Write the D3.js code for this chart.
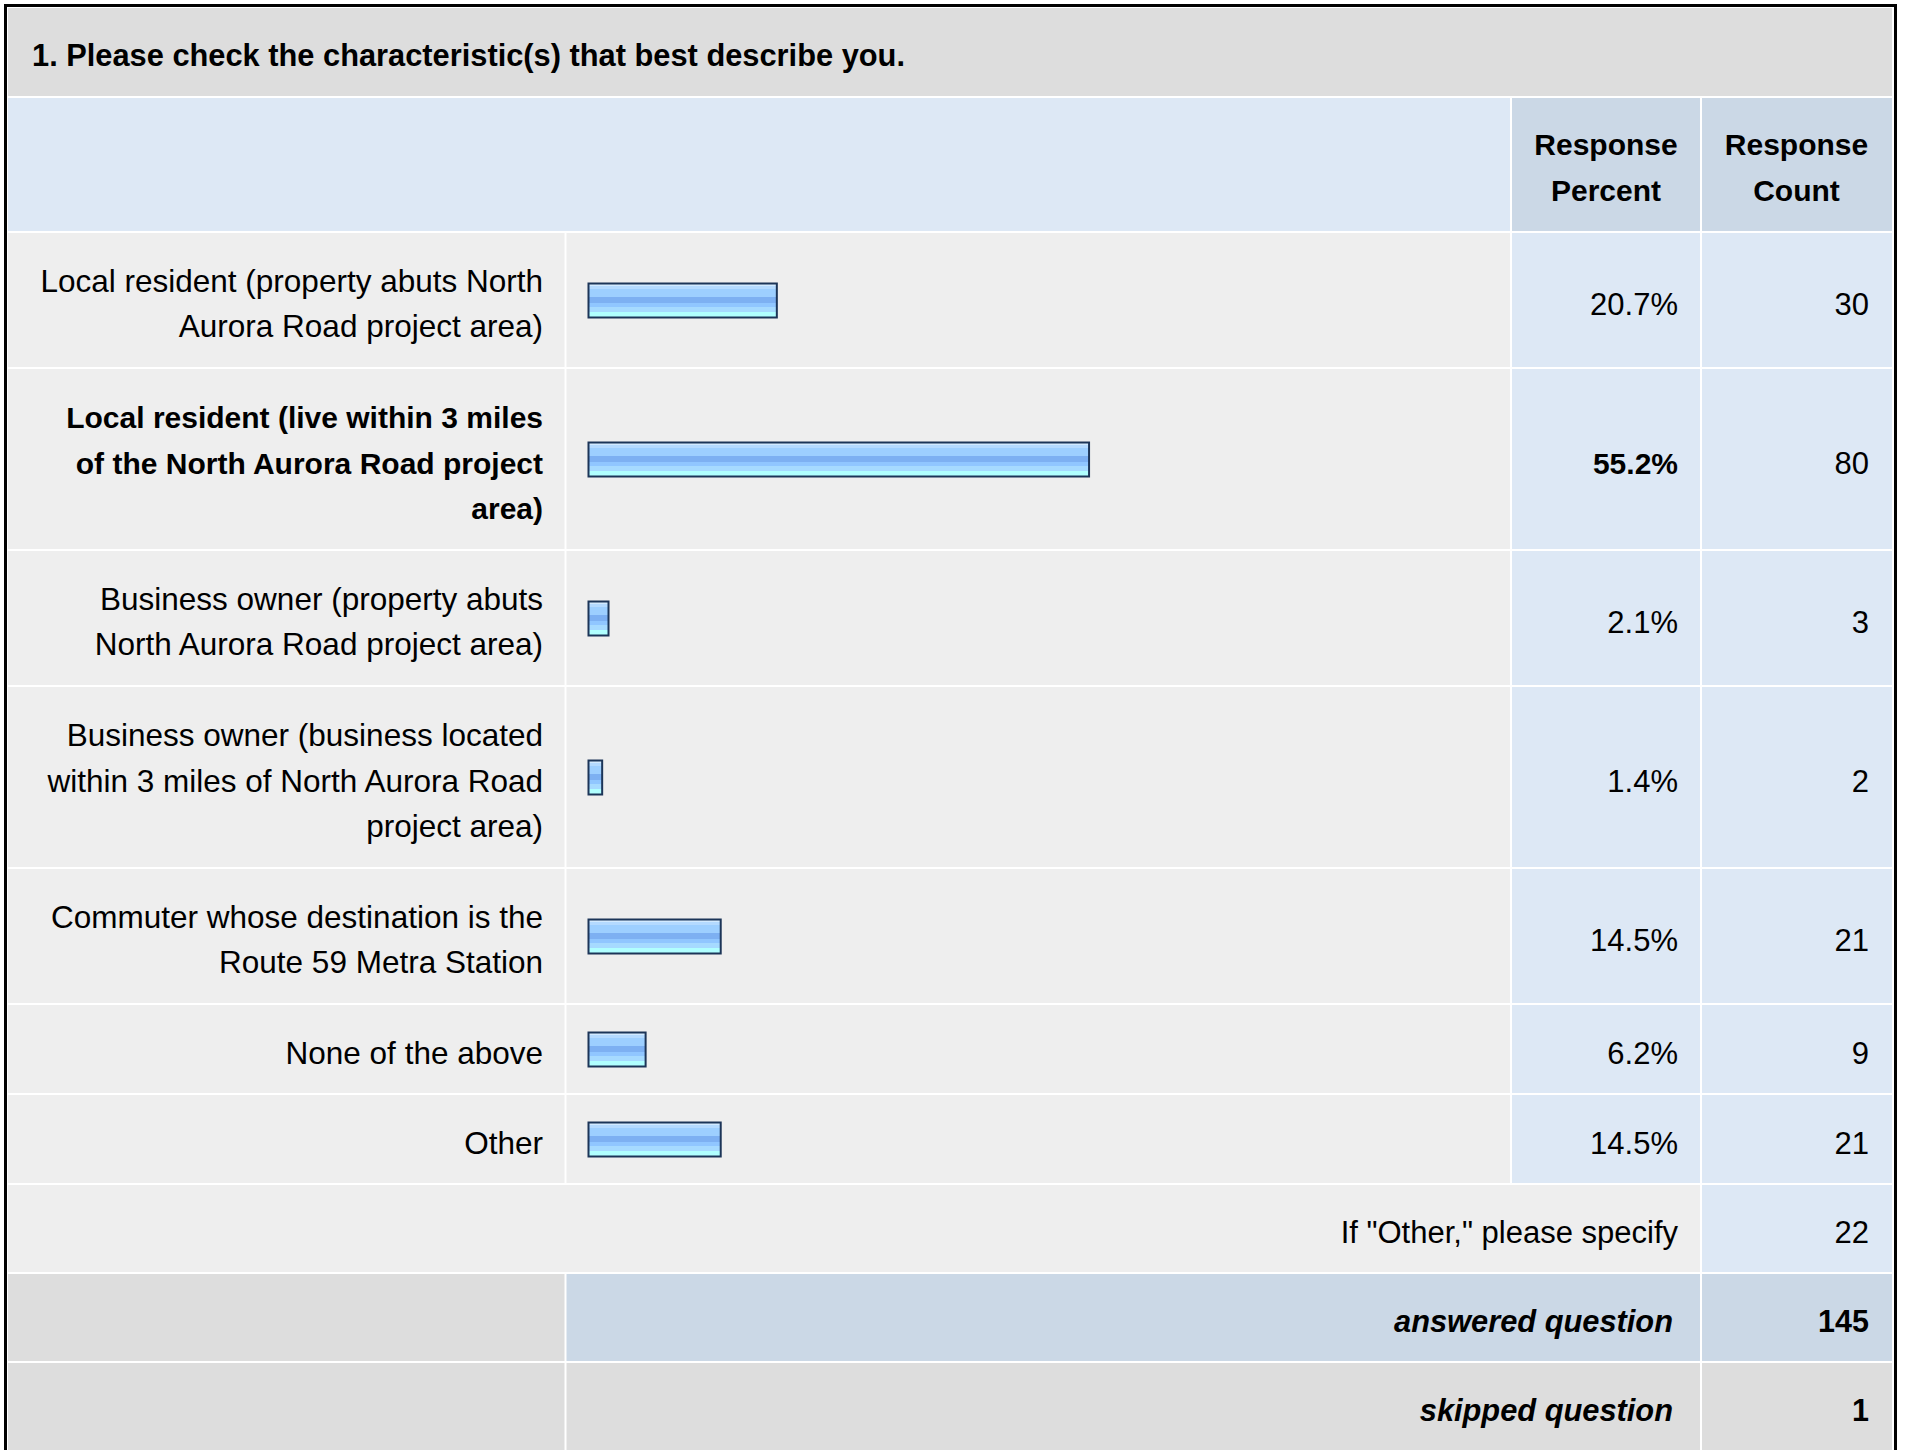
<!DOCTYPE html>
<html>
<head>
<meta charset="utf-8">
<script src="https://cdn.jsdelivr.net/npm/d3@7"></script>
<style>
  html, body { margin: 0; padding: 0; background: #ffffff; }
  svg { display: block; }
  text { font-family: "Liberation Sans", Arial, Helvetica, sans-serif; fill: #000; }
</style>
</head>
<body>
<script>
// ---------- data ----------
const titleText = "1. Please check the characteristic(s) that best describe you.";
const headerPercent = ["Response", "Percent"];
const headerCount = ["Response", "Count"];
const categories = [
  ["Local resident (property abuts North", "Aurora Road project area)"],
  ["Local resident (live within 3 miles", "of the North Aurora Road project", "area)"],
  ["Business owner (property abuts", "North Aurora Road project area)"],
  ["Business owner (business located", "within 3 miles of North Aurora Road", "project area)"],
  ["Commuter whose destination is the", "Route 59 Metra Station"],
  ["None of the above"],
  ["Other"]
];
const percents = [20.7, 55.2, 2.1, 1.4, 14.5, 6.2, 14.5];
const counts = [30, 80, 3, 2, 21, 9, 21];
const otherLabel = 'If "Other," please specify';
const otherCount = 22;
const summaryLabels = ["answered question", "skipped question"];
const summaryCounts = [145, 1];

// ---------- layout ----------
const W = 1907, H = 1450;
const colL = 8, colLabelEnd = 565.5, colBarEnd = 1511, colPctEnd = 1701, colR = 1892;
const lineH = 45.5, baseOff = 14.5;
const cLight = "#eeeeee", cGray = "#dddddd", cBlue = "#dde8f5", cBlueDark = "#cbd8e6";

const svg = d3.select("body").append("svg").attr("width", W).attr("height", H);

const defs = svg.append("defs");
const grad = defs.append("linearGradient").attr("id", "barGrad")
  .attr("x1", 0).attr("y1", 0).attr("x2", 0).attr("y2", 1);
[[0, "#d2eaff"], [0.07, "#d2eaff"], [0.07, "#b4daff"], [0.17, "#b4daff"], [0.17, "#9dcfff"],
 [0.40, "#9dcfff"], [0.40, "#7db0f2"], [0.56, "#7db0f2"], [0.56, "#90c6ff"], [0.69, "#90c6ff"],
 [0.69, "#a6daff"], [0.83, "#a6daff"], [0.83, "#b0ffff"], [1, "#b0ffff"]]
  .forEach(([o, c]) => grad.append("stop").attr("offset", o).attr("stop-color", c));

// outer frame
svg.append("rect").attr("x", 5.5).attr("y", 5.5).attr("width", 1890).attr("height", H + 20)
  .attr("fill", "#fff").attr("stroke", "#000").attr("stroke-width", 3);

function cell(x0, x1, y0, y1, fill) {
  svg.append("rect").attr("x", x0 + 1).attr("y", y0 + 1)
    .attr("width", Math.max(0, x1 - x0 - 2)).attr("height", Math.max(0, y1 - y0 - 2))
    .attr("fill", fill);
}
function lines(arr, x, center, anchor, weight, style, size) {
  const n = arr.length;
  const t = svg.append("text").attr("text-anchor", anchor)
    .style("font-size", size + "px").style("font-weight", weight).style("font-style", style);
  arr.forEach((s, i) => {
    t.append("tspan").attr("x", x)
      .attr("y", center + baseOff + (i - (n - 1) / 2) * lineH).text(s);
  });
}

// title band
const titleBot = 97;
svg.append("rect").attr("x", colL).attr("y", 8).attr("width", colR - colL).attr("height", titleBot - 1 - 8).attr("fill", cGray);
svg.append("text").attr("x", 32).attr("y", (8 + 96) / 2 + baseOff - 1)
  .style("font-size", "30.8px").style("font-weight", "bold").text(titleText);

// header band
const headTop = 97, headBot = 232;
cell(colL - 1, colBarEnd, headTop, headBot, cBlue);
cell(colBarEnd, colPctEnd, headTop, headBot, cBlueDark);
cell(colPctEnd, colR + 1, headTop, headBot, cBlueDark);
const hc = (headTop + headBot) / 2;
lines(headerPercent, (colBarEnd + colPctEnd) / 2, hc - 1, "middle", "bold", "normal", 30);
lines(headerCount, (colPctEnd + colR) / 2, hc - 1, "middle", "bold", "normal", 30);

// data rows
const x = d3.scaleLinear().domain([0, 100]).range([0, 905]);
const maxCount = d3.max(counts);
let y = headBot;
categories.forEach((lab, i) => {
  const h = lab.length * 46 + 44;
  const y0 = y, y1 = y + h, c = (y0 + y1) / 2;
  cell(colL - 1, colLabelEnd, y0, y1, cLight);
  cell(colLabelEnd, colBarEnd, y0, y1, cLight);
  cell(colBarEnd, colPctEnd, y0, y1, cBlue);
  cell(colPctEnd, colR + 1, y0, y1, cBlue);
  const isMax = counts[i] === maxCount;
  const bold = isMax ? "bold" : "normal";
  lines(lab, 543, c, "end", bold, "normal", isMax ? 30 : 31.5);
  svg.append("rect")
    .attr("x", 588.5).attr("y", c - 16.5)
    .attr("width", x(percents[i]) + 1).attr("height", 34)
    .attr("fill", "url(#barGrad)").attr("stroke", "#1c3558").attr("stroke-width", 2);
  lines([percents[i].toFixed(1) + "%"], 1678, c, "end", bold, "normal", isMax ? 30 : 31);
  lines([String(counts[i])], 1869, c, "end", "normal", "normal", 31);
  y = y1;
});

// "Other" specify row
{
  const y0 = y, y1 = y + 89, c = (y0 + y1) / 2;
  cell(colL - 1, colPctEnd, y0, y1, cLight);
  cell(colPctEnd, colR + 1, y0, y1, cBlue);
  lines([otherLabel], 1678, c, "end", "normal", "normal", 31);
  lines([String(otherCount)], 1869, c, "end", "normal", "normal", 31);
  y = y1;
}

// summary rows
summaryLabels.forEach((lab, i) => {
  const y0 = y, y1 = y + 89, c = (y0 + y1) / 2;
  const mid = i === 0 ? cBlueDark : cGray;
  cell(colL - 1, colLabelEnd, y0, y1, cGray);
  cell(colLabelEnd, colPctEnd, y0, y1, mid);
  cell(colPctEnd, colR + 1, y0, y1, mid);
  lines([lab], 1673, c, "end", "bold", "italic", 30.8);
  lines([String(summaryCounts[i])], 1869, c, "end", "bold", "normal", 30.5);
  y = y1;
});
</script>
</body>
</html>
